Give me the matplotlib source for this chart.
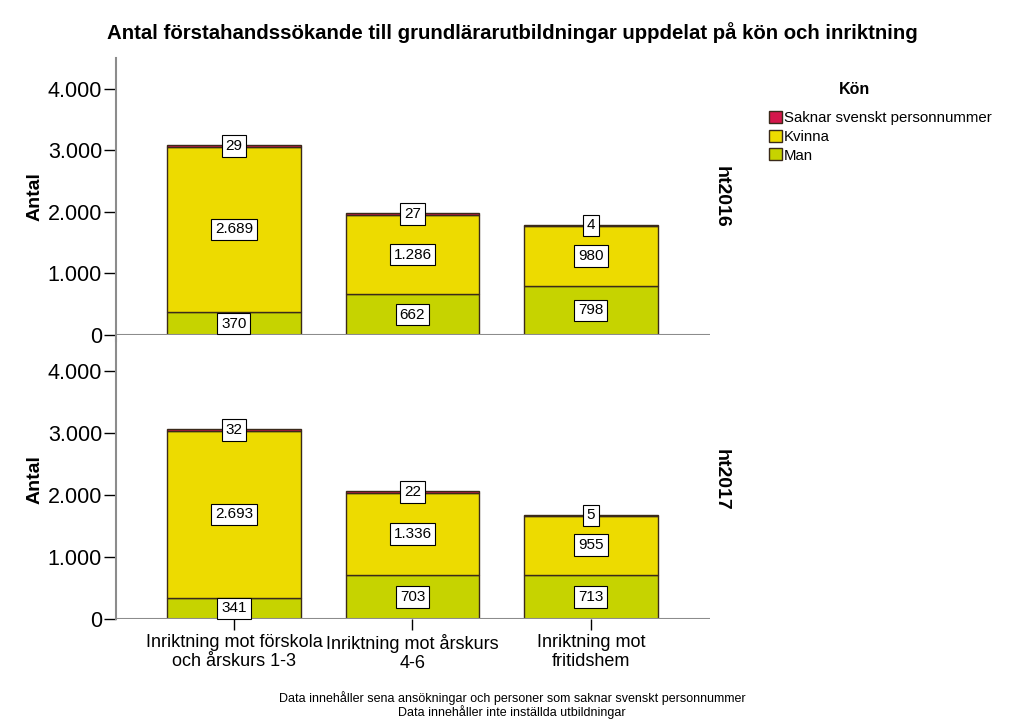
import numpy as np
import matplotlib
matplotlib.use("Agg")
import matplotlib.pyplot as plt
from matplotlib.patches import Patch

plt.rcParams['font.family'] = ['Liberation Sans', 'DejaVu Sans']

categories = ["Inriktning mot förskola\noch årskurs 1-3", "Inriktning mot årskurs\n4-6", "Inriktning mot\nfritidshem"]
panels = ["ht2016", "ht2017"]
man = {"ht2016": [370, 662, 798], "ht2017": [341, 703, 713]}
kvinna = {"ht2016": [2689, 1286, 980], "ht2017": [2693, 1336, 955]}
saknar = {"ht2016": [29, 27, 4], "ht2017": [32, 22, 5]}
yticks = [0, 1000, 2000, 3000, 4000]
ytick_labels = ["0", "1.000", "2.000", "3.000", "4.000"]

c_man = "#c6d300"
c_kvinna = "#eddb00"
c_saknar = "#d4174b"
edge = "#3a2a1a"
axis_grey = "#8c8c8c"

def fmt(v):
    return f"{v:,}".replace(",", ".")

fig = plt.figure(figsize=(10.24, 7.28), dpi=100)
ax_top = fig.add_axes([116/1024, 1 - 335/728, 594/1024, 277/728])
ax_bot = fig.add_axes([116/1024, 1 - 619/728, 594/1024, 279/728])

x = np.arange(len(categories))
w = 0.75
box = dict(boxstyle="square,pad=0.25", fc="white", ec="black", lw=0.8)

for ax, p in zip([ax_top, ax_bot], panels):
    m = np.array(man[p])
    k = np.array(kvinna[p])
    s = np.array(saknar[p])
    ax.bar(x, m, w, color=c_man, edgecolor=edge, lw=1, zorder=2)
    ax.bar(x, k, w, bottom=m, color=c_kvinna, edgecolor=edge, lw=1, zorder=2)
    ax.bar(x, s, w, bottom=m + k, color=c_saknar, edgecolor=edge, lw=1, zorder=2)
    for i in range(len(x)):
        ax.text(x[i], m[i] / 2, fmt(m[i]), ha="center", va="center", fontsize=11, bbox=box, zorder=4)
        ax.text(x[i], m[i] + k[i] / 2, fmt(k[i]), ha="center", va="center", fontsize=11, bbox=box, zorder=4)
        ax.text(x[i], m[i] + k[i] + s[i] / 2, fmt(s[i]), ha="center", va="center", fontsize=11, bbox=box, zorder=4)

    ax.set_xlim(-0.661, 2.667)
    ax.set_ylim(0, 4500)
    ax.set_yticks(yticks)
    ax.set_yticklabels(ytick_labels, fontsize=15.5)
    ax.tick_params(axis="y", length=9, color="black", width=1, pad=1)
    ax.axhline(0, color=axis_grey, lw=1.5, zorder=3)
    for sp in ["top", "right", "bottom"]:
        ax.spines[sp].set_visible(False)
    ax.spines["left"].set_color(axis_grey)
    ax.spines["left"].set_linewidth(1.5)
    ax.set_ylabel("Antal", fontsize=14, fontweight="bold", labelpad=3)
    ax.text(1.004, 0.5, p, transform=ax.transAxes, rotation=270, ha="left", va="center",
            fontsize=14, fontweight="bold")
    ax.patch.set_alpha(0)

# left spine stretches slightly below zero in top panel
ax_top.spines["left"].set_bounds(-90, 4500)
ax_top.set_ylim(0, 4500)
ax_top.set_xticks([])

ax_bot.set_xticks(x)
ax_bot.set_xticklabels(categories, fontsize=13, linespacing=1.15)
ax_bot.tick_params(axis="x", length=8, color="black", width=1, pad=3)

fig.text(0.5, 1 - 33/728, "Antal förstahandssökande till grundlärarutbildningar uppdelat på kön och inriktning",
         ha="center", va="center", fontsize=14.7, fontweight="bold")

# legend
fig.text(855/1024, 1 - 89/728, "Kön", ha="center", va="center", fontsize=11.5, fontweight="bold")
handles = [Patch(fc=c_saknar, ec=edge), Patch(fc=c_kvinna, ec=edge), Patch(fc=c_man, ec=edge)]
fig.legend(handles, ["Saknar svenskt personnummer", "Kvinna", "Man"],
           loc="upper left", bbox_to_anchor=(769/1024, 1 - 111/728), frameon=False,
           fontsize=10.8, handlelength=0.85, handleheight=0.85, handletextpad=0.15,
           labelspacing=0.3, borderpad=0, borderaxespad=0)

foot = "Data innehåller sena ansökningar och personer som saknar svenskt personnummer\nData innehåller inte inställda utbildningar"
fig.text(512/1024, 1 - 705/728, foot, ha="center", va="center", fontsize=9, linespacing=0.95)

fig.savefig("out.png", dpi=100)
